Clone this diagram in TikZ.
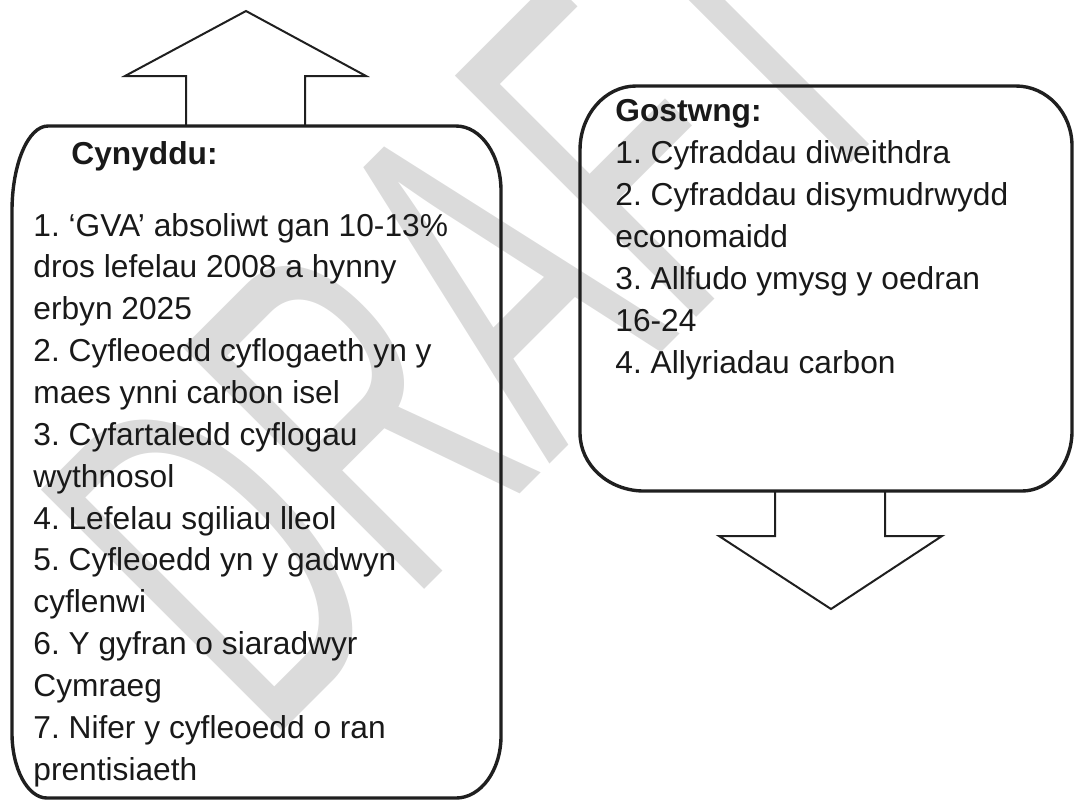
\documentclass[tikz,border=0pt]{standalone}
\usepackage{fontspec}
\setmainfont{Liberation Sans}
\frenchspacing
\tikzset{
  box/.style={line width=1.7pt, draw=black!88},
  blockarrow/.style={line width=1pt, draw=black!88, line join=miter},
  item/.style={anchor=base west, inner sep=0pt, text=black!90, font=\fontsize{15.85}{20}\selectfont},
  heading/.style={item, font=\fontsize{15.85}{20}\selectfont\bfseries},
  watermark/.style={anchor=base west, inner sep=0pt, text=black!14, rotate=45, font=\fontsize{248}{248}\selectfont}
}
\begin{document}
\begin{tikzpicture}[x=0.5pt,y=-0.5pt]
  \useasboundingbox (0,0) rectangle (1074,800);

  \begin{scope}
    \clip (0,0) rectangle (1074,800);
    \node[watermark] (draft) at (266,748) {\scalebox{0.56}[1]{DRAFT}};
  \end{scope}

  % boxes
  \draw[box] (12,211) .. controls (12,164.1) and (28.1,126) .. (48,126)
    -- (456,126) .. controls (480.9,126) and (501,155.1) .. (501,191)
    -- (501,736) .. controls (501,770.2) and (480.9,798) .. (456,798)
    -- (47,798) .. controls (27.7,798) and (12,768.9) .. (12,733) -- cycle;
  \draw[box] (580,150) .. controls (580,114.7) and (605.1,86) .. (636,86)
    -- (1016,86) .. controls (1046.9,86) and (1072,112.9) .. (1072,146)
    -- (1072,431) .. controls (1072,464.1) and (1049.6,491) .. (1022,491)
    -- (644,491) .. controls (608.7,491) and (580,465) .. (580,433) -- cycle;

  \draw[blockarrow] (186,126) -- (186,76) -- (125,76) -- (246,11) -- (366,76) -- (305,76) -- (305,126);
  \draw[blockarrow] (775,491) -- (775,536) -- (719,536) -- (831,609) -- (942,536) -- (885,536) -- (885,491);

  \node[heading] (cyn) at (71,164) {Cynyddu:};
  \node[item] (c1) at (33,236) {1. ‘GVA’ absoliwt gan 10-13\%};
  \node[item] (c2) at (33,277.9) {dros lefelau 2008 a hynny};
  \node[item] (c3) at (33,319.7) {erbyn 2025};
  \node[item] (c4) at (33,361.6) {2. Cyfleoedd cyflogaeth yn y};
  \node[item] (c5) at (33,403.4) {maes ynni carbon isel};
  \node[item] (c6) at (33,445.3) {3. Cyfartaledd cyflogau};
  \node[item] (c7) at (33,487.1) {wythnosol};
  \node[item] (c8) at (33,529) {4. Lefelau sgiliau lleol};
  \node[item] (c9) at (33,570.8) {5. Cyfleoedd yn y gadwyn};
  \node[item] (c10) at (33,612.7) {cyflenwi};
  \node[item] (c11) at (33,654.5) {6. Y gyfran o siaradwyr};
  \node[item] (c12) at (33,696.4) {Cymraeg};
  \node[item] (c13) at (33,738.2) {7. Nifer y cyfleoedd o ran};
  \node[item] (c14) at (33,780.1) {prentisiaeth};

  \node[heading] (gos) at (615,121.7) {Gostwng:};
  \node[item] (g1) at (615,163.3) {1. Cyfraddau diweithdra};
  \node[item] (g2) at (615,205.3) {2. Cyfraddau disymudrwydd};
  \node[item] (g3) at (615,247.3) {economaidd};
  \node[item] (g4) at (615,289.3) {3. Allfudo ymysg y oedran};
  \node[item] (g5) at (615,331.3) {16-24};
  \node[item] (g6) at (615,373.3) {4. Allyriadau carbon};
\end{tikzpicture}
\end{document}
